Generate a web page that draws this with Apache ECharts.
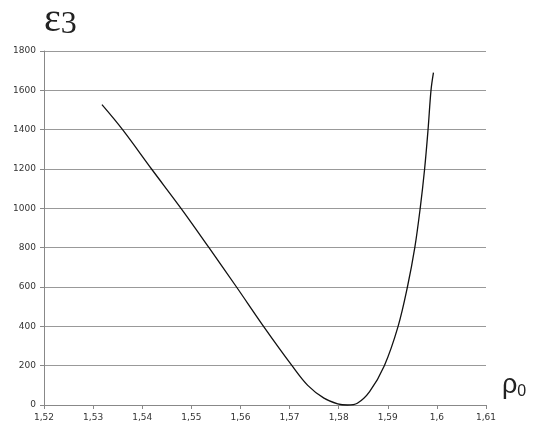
<!DOCTYPE html>
<html>
<head>
<meta charset="utf-8">
<script src="https://cdn.jsdelivr.net/npm/echarts@6/dist/echarts.min.js"></script>
<style>
  html, body { margin: 0; padding: 0; background: #fff; }
  #chart { width: 534px; height: 430px; }
</style>
</head>
<body>
<div id="chart"></div>
<script>
// rho0 values and epsilon3 values
var rho = [1.5318, 1.5360, 1.5419, 1.5479, 1.5536, 1.5592, 1.5647, 1.5705, 1.5737, 1.5770,
           1.5798, 1.5818, 1.5838, 1.5863, 1.5893, 1.5921, 1.5940, 1.5955, 1.5966, 1.5975,
           1.5982, 1.5988, 1.5993];
var eps = [1527, 1400, 1200, 1000, 800, 600, 400, 200, 100, 35,
           6, 0, 9, 68, 200, 400, 600, 800, 1000, 1200,
           1400, 1600, 1690];

var chart = echarts.init(document.getElementById('chart'));
var pts = rho.map(function (r, i) { return [r, eps[i]]; });

chart.setOption({
  animation: false,
  grid: { left: 44, right: 48, top: 51, bottom: 25 },
  xAxis: {
    type: 'value',
    min: 1.52, max: 1.61, interval: 0.01,
    axisLine: { lineStyle: { color: '#888', width: 1 } },
    axisTick: { show: true, length: 4, lineStyle: { color: '#888' } },
    splitLine: { show: false },
    axisLabel: {
      color: '#333', fontSize: 9, fontFamily: 'DejaVu Sans', margin: 8,
      formatter: function (v) {
        return (Math.round(v * 100) / 100).toString().replace('.', ',');
      }
    }
  },
  yAxis: {
    type: 'value',
    min: 0, max: 1800, interval: 200,
    axisLine: { show: true, lineStyle: { color: '#888', width: 1 } },
    axisTick: { show: true, length: 4, lineStyle: { color: '#888' } },
    splitLine: { lineStyle: { color: '#999', width: 1 } },
    axisLabel: {
      color: '#333', fontSize: 9, fontFamily: 'DejaVu Sans', margin: 8,
      formatter: function (v) { return String(v); }
    }
  },
  graphic: [
    {
      type: 'text', left: 44, top: 0,
      style: {
        text: '{a|ε}{b|3}',
        rich: {
          a: { fontSize: 40, fontFamily: 'Liberation Serif', fill: '#222' },
          b: { fontSize: 32, fontFamily: 'Liberation Serif', fill: '#222', padding: [10, 0, 0, 0] }
        }
      }
    },
    {
      type: 'text', left: 502, top: 372,
      style: {
        text: '{a|ρ}{b|0}',
        rich: {
          a: { fontSize: 27, fontFamily: 'Liberation Sans', fill: '#222' },
          b: { fontSize: 16, fontFamily: 'Liberation Sans', fill: '#222', padding: [12, 0, 0, 0] }
        }
      }
    }
  ],
  series: [{
    type: 'line',
    data: pts,
    smooth: 0.35,
    clip: false,
    showSymbol: false,
    lineStyle: { color: '#111', width: 1.3 }
  }]
});
</script>
</body>
</html>
